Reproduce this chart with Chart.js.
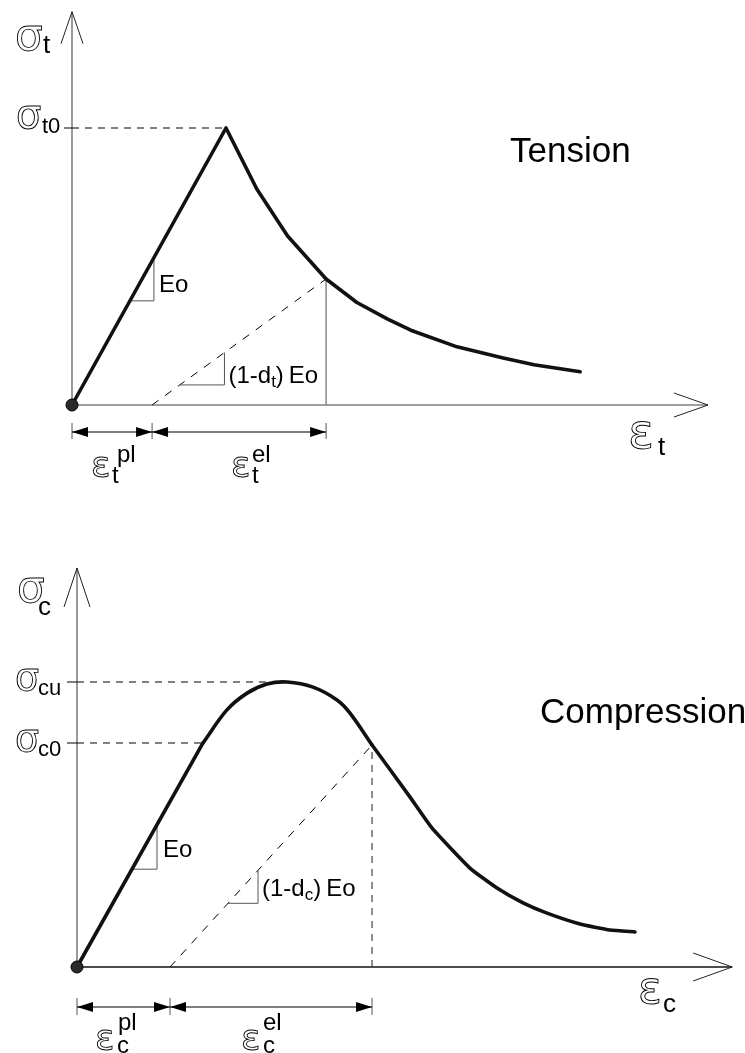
<!DOCTYPE html>
<html><head><meta charset="utf-8">
<script src="https://cdn.jsdelivr.net/npm/chart.js@4.4.0/dist/chart.umd.min.js"></script>
<style>
html,body{margin:0;padding:0;background:#fff;}
#wrap{position:relative;width:745px;height:1053px;overflow:hidden;background:#fff;}
canvas{position:absolute;left:0;}
#c1{top:0}
#c2{top:520px}
</style></head><body>
<div id="wrap"><canvas id="c1" width="745" height="520"></canvas><canvas id="c2" width="745" height="533"></canvas></div>
<script>
// ---------- data (normalised strain / stress) ----------
const tensionStrain = [0, 1, 1.2, 1.4, 1.65, 1.85, 2.05, 2.2, 2.5, 2.8, 3.0, 3.3];
const tensionStress = [0, 1, 0.78, 0.61, 0.455, 0.37, 0.31, 0.27, 0.21, 0.17, 0.145, 0.12];
const tensionPlasticStrain = 0.52;
const tensionUnloadIndex = 4;
const tensionPeakIndex = 1;
const tensionAxisEnd = [4.13, 1.42];
const tensionEoTriangle = [0.376, 0.532];
const tensionDamagedTriangle = [0.70, 0.99];

const compStrain = [0, 0.6, 0.714, 0.81, 0.905, 1.0, 1.124, 1.238, 1.3, 1.405, 1.586, 1.69, 1.871, 2.0, 2.124, 2.238, 2.395, 2.538, 2.657];
const compStress = [0, 0.786, 0.902, 0.961, 0.993, 1.0, 0.982, 0.937, 0.891, 0.779, 0.596, 0.488, 0.347, 0.277, 0.225, 0.189, 0.151, 0.130, 0.123];
const compPlasticStrain = 0.443;
const compUnloadIndex = 9;
const compYieldIndex = 1;
const compPeakIndex = 5;
const compAxisEnd = [3.12, 1.40];
const compEoTriangle = [0.262, 0.381];
const compDamagedTriangle = [0.719, 0.862];

const tensionTitle = "Tension";
const compTitle = "Compression";

// ---------- helpers ----------
const SANS = '"Liberation Sans", Arial, sans-serif';
function line(ctx, x1, y1, x2, y2, color, w, dash) {
  ctx.save(); ctx.beginPath(); ctx.strokeStyle = color; ctx.lineWidth = w;
  ctx.setLineDash(dash || []); ctx.moveTo(x1, y1); ctx.lineTo(x2, y2); ctx.stroke(); ctx.restore();
}
function openArrow(ctx, tx, ty, dx, dy, len, half, color, w) {
  const bx = tx - dx * len, by = ty - dy * len;
  const nx = -dy, ny = dx;
  line(ctx, tx, ty, bx + nx * half, by + ny * half, color, w);
  line(ctx, tx, ty, bx - nx * half, by - ny * half, color, w);
}
function solidArrow(ctx, tx, ty, dir, len, half) {
  ctx.save(); ctx.fillStyle = '#000'; ctx.beginPath();
  ctx.moveTo(tx, ty); ctx.lineTo(tx - dir * len, ty - half); ctx.lineTo(tx - dir * len, ty + half);
  ctx.closePath(); ctx.fill(); ctx.restore();
}
function dimension(ctx, xa, xb, y) {
  line(ctx, xa, y, xb, y, '#000', 1.2);
  solidArrow(ctx, xa, y, -1, 16, 5);
  solidArrow(ctx, xb, y, 1, 16, 5);
}
function txt(ctx, s, x, y, size, color) {
  ctx.save(); ctx.font = size + 'px ' + SANS; ctx.fillStyle = color || '#000';
  ctx.textAlign = 'left'; ctx.textBaseline = 'alphabetic'; ctx.fillText(s, x, y);
  const w = ctx.measureText(s).width; ctx.restore();
  return x + w;
}
function sym(ctx, s, x, y, size) {
  ctx.save(); ctx.font = size + 'px "DejaVu Sans"'; ctx.strokeStyle = '#000'; ctx.lineWidth = 0.9;
  ctx.textAlign = 'left'; ctx.textBaseline = 'alphabetic'; ctx.strokeText(s, x, y); ctx.restore();
}
function dot(ctx, x, y) {
  ctx.save(); ctx.beginPath(); ctx.arc(x, y, 6, 0, Math.PI * 2); ctx.fillStyle = '#2a2a2a'; ctx.fill();
  ctx.strokeStyle = '#000'; ctx.lineWidth = 1; ctx.stroke(); ctx.restore();
}
function triangle(ctx, X, Y, x0, x1, y0, y1) {
  line(ctx, X(x0), Y(y0), X(x1), Y(y0), '#555', 1);
  line(ctx, X(x1), Y(y0), X(x1), Y(y1), '#555', 1);
}
function onLine(xs, ys, x, a, b) {
  return ys[a] + (ys[b] - ys[a]) * (x - xs[a]) / (xs[b] - xs[a]);
}

// ---------- plugins ----------
const tensionPlugin = {
  id: 'tensionSketch',
  beforeDatasetsDraw(chart) {
    const ctx = chart.ctx, X = v => chart.scales.x.getPixelForValue(v), Y = v => chart.scales.y.getPixelForValue(v);
    const ox = X(0), oy = Y(0);
    line(ctx, ox, oy, ox, Y(tensionAxisEnd[1]), '#808080', 1.6);
    openArrow(ctx, ox, Y(tensionAxisEnd[1]), 0, -1, 32, 11, '#222', 1);
    line(ctx, ox, oy, X(tensionAxisEnd[0]), oy, '#808080', 1.6);
    openArrow(ctx, X(tensionAxisEnd[0]), oy, 1, 0, 34, 12, '#222', 1);
    const px = tensionStrain[tensionPeakIndex], py = tensionStress[tensionPeakIndex];
    line(ctx, ox - 8, Y(py), ox, Y(py), '#000', 1);
    line(ctx, ox, Y(py), X(px), Y(py), '#000', 1, [7, 6]);
    const ux = tensionStrain[tensionUnloadIndex], uy = tensionStress[tensionUnloadIndex];
    line(ctx, X(ux), oy, X(ux), Y(uy), '#808080', 1.4);
    line(ctx, X(tensionPlasticStrain), oy, X(ux), Y(uy), '#000', 1, [8, 8]);
    const e0 = onLine(tensionStrain, tensionStress, tensionEoTriangle[0], 0, 1);
    const e1 = onLine(tensionStrain, tensionStress, tensionEoTriangle[1], 0, 1);
    triangle(ctx, X, Y, tensionEoTriangle[0], tensionEoTriangle[1], e0, e1);
    const k = uy / (ux - tensionPlasticStrain);
    const d0 = k * (tensionDamagedTriangle[0] - tensionPlasticStrain), d1 = k * (tensionDamagedTriangle[1] - tensionPlasticStrain);
    triangle(ctx, X, Y, tensionDamagedTriangle[0], tensionDamagedTriangle[1], d0, d1);
  },
  afterDatasetsDraw(chart) {
    const ctx = chart.ctx, X = v => chart.scales.x.getPixelForValue(v), Y = v => chart.scales.y.getPixelForValue(v);
    const ox = X(0), oy = Y(0);
    dot(ctx, ox, oy);
    const ux = tensionStrain[tensionUnloadIndex], uy = tensionStress[tensionUnloadIndex];
    const dy = oy + 27;
    [0, tensionPlasticStrain, ux].forEach(v => line(ctx, X(v), oy + 18, X(v), oy + 34, '#555', 1));
    dimension(ctx, X(0), X(tensionPlasticStrain), dy);
    dimension(ctx, X(tensionPlasticStrain), X(ux), dy);
    sym(ctx, 'σ', ox - 57, oy - 355, 44); txt(ctx, 't', ox - 29, oy - 352, 26);
    const yp = Y(tensionStress[tensionPeakIndex]);
    sym(ctx, 'σ', ox - 56, yp, 40); txt(ctx, 't0', ox - 30, yp + 5, 22);
    const e0 = onLine(tensionStrain, tensionStress, tensionEoTriangle[0], 0, 1);
    txt(ctx, 'Eo', X(tensionEoTriangle[1]) + 5, Y(e0) - 9, 24);
    const k = uy / (ux - tensionPlasticStrain);
    const d0 = k * (tensionDamagedTriangle[0] - tensionPlasticStrain);
    let x = X(tensionDamagedTriangle[1]) + 4, by = Y(d0) - 2;
    x = txt(ctx, '(1-d', x, by, 24); x = txt(ctx, 't', x, by + 4, 17); x = txt(ctx, ')', x, by, 24);
    txt(ctx, 'Eo', x + 5, by, 24);
    txt(ctx, tensionTitle, ox + 438, oy - 243, 35);
    sym(ctx, 'ε', ox + 556, oy + 43, 48); txt(ctx, 't', ox + 586, oy + 50, 26);
    sym(ctx, 'ε', ox + 19, oy + 72, 36); txt(ctx, 't', ox + 40, oy + 78, 24); txt(ctx, 'pl', ox + 45, oy + 57, 24);
    sym(ctx, 'ε', ox + 159, oy + 72, 36); txt(ctx, 't', ox + 180, oy + 78, 24); txt(ctx, 'el', ox + 180, oy + 57, 24);
  }
};

const compPlugin = {
  id: 'compSketch',
  beforeDatasetsDraw(chart) {
    const ctx = chart.ctx, X = v => chart.scales.x.getPixelForValue(v), Y = v => chart.scales.y.getPixelForValue(v);
    const ox = X(0), oy = Y(0);
    line(ctx, ox, oy, ox, Y(compAxisEnd[1]), '#808080', 1.6);
    openArrow(ctx, ox, Y(compAxisEnd[1]), 0, -1, 39, 13, '#222', 1);
    line(ctx, ox, oy, X(compAxisEnd[0]), oy, '#111', 1.3);
    openArrow(ctx, X(compAxisEnd[0]), oy, 1, 0, 39, 14, '#222', 1);
    const peak = [compStrain[compPeakIndex], compStress[compPeakIndex]];
    const yld = [compStrain[compYieldIndex], compStress[compYieldIndex]];
    [peak, yld].forEach(p => {
      line(ctx, ox - 10, Y(p[1]), ox, Y(p[1]), '#000', 1);
      line(ctx, ox, Y(p[1]), X(p[0]), Y(p[1]), '#000', 1, [7, 6]);
    });
    const ux = compStrain[compUnloadIndex], uy = compStress[compUnloadIndex];
    line(ctx, X(ux), oy, X(ux), Y(uy), '#444', 1.2, [7, 6]);
    line(ctx, X(compPlasticStrain), oy, X(ux), Y(uy), '#000', 1, [8, 8]);
    const e0 = onLine(compStrain, compStress, compEoTriangle[0], 0, 1);
    const e1 = onLine(compStrain, compStress, compEoTriangle[1], 0, 1);
    triangle(ctx, X, Y, compEoTriangle[0], compEoTriangle[1], e0, e1);
    const k = uy / (ux - compPlasticStrain);
    const d0 = k * (compDamagedTriangle[0] - compPlasticStrain), d1 = k * (compDamagedTriangle[1] - compPlasticStrain);
    triangle(ctx, X, Y, compDamagedTriangle[0], compDamagedTriangle[1], d0, d1);
  },
  afterDatasetsDraw(chart) {
    const ctx = chart.ctx, X = v => chart.scales.x.getPixelForValue(v), Y = v => chart.scales.y.getPixelForValue(v);
    const ox = X(0), oy = Y(0);
    dot(ctx, ox, oy);
    const ux = compStrain[compUnloadIndex], uy = compStress[compUnloadIndex];
    const dy = oy + 40;
    [0, compPlasticStrain, ux].forEach(v => line(ctx, X(v), oy + 31, X(v), oy + 48, '#555', 1));
    dimension(ctx, X(0), X(compPlasticStrain), dy);
    dimension(ctx, X(compPlasticStrain), X(ux), dy);
    sym(ctx, 'σ', ox - 60, oy - 365, 44); txt(ctx, 'c', ox - 39, oy - 352, 26);
    const yc = Y(compStress[compPeakIndex]), y0 = Y(compStress[compYieldIndex]);
    sym(ctx, 'σ', ox - 62, yc + 8, 38); txt(ctx, 'cu', ox - 39, yc + 13, 22);
    sym(ctx, 'σ', ox - 62, y0 + 8, 38); txt(ctx, 'c0', ox - 39, y0 + 13, 22);
    const e0 = onLine(compStrain, compStress, compEoTriangle[0], 0, 1);
    txt(ctx, 'Eo', X(compEoTriangle[1]) + 6, Y(e0) - 12, 24);
    const k = uy / (ux - compPlasticStrain);
    const d0 = k * (compDamagedTriangle[0] - compPlasticStrain);
    let x = X(compDamagedTriangle[1]) + 4, by = Y(d0) - 7;
    x = txt(ctx, '(1-d', x, by, 24); x = txt(ctx, 'c', x, by + 4, 17); x = txt(ctx, ')', x, by, 24);
    txt(ctx, 'Eo', x + 5, by, 24);
    txt(ctx, compTitle, ox + 463, oy - 244, 35);
    sym(ctx, 'ε', ox + 561, oy + 36, 44); txt(ctx, 'c', ox + 586, oy + 45, 26);
    sym(ctx, 'ε', ox + 18, oy + 83, 36); txt(ctx, 'c', ox + 40, oy + 86, 24); txt(ctx, 'pl', ox + 41, oy + 63, 24);
    sym(ctx, 'ε', ox + 164, oy + 83, 36); txt(ctx, 'c', ox + 186, oy + 86, 24); txt(ctx, 'el', ox + 186, oy + 63, 24);
  }
};

function pts(xs, ys, a, b) {
  const out = [];
  for (let i = a; i <= b; i++) out.push({ x: xs[i], y: ys[i] });
  return out;
}
function curve(data, tension) {
  return { data: data, borderColor: '#111', borderWidth: 3.6, pointRadius: 0, tension: tension,
    fill: false, clip: false, borderJoinStyle: 'round', borderCapStyle: 'round' };
}
function makeChart(id, datasets, xmax, ymax, padding, plugin) {
  return new Chart(document.getElementById(id), {
    type: 'line',
    data: { datasets: datasets },
    options: {
      responsive: false, animation: false, devicePixelRatio: 1, events: [],
      layout: { padding: padding },
      scales: { x: { type: 'linear', min: 0, max: xmax, display: false }, y: { type: 'linear', min: 0, max: ymax, display: false } },
      plugins: { legend: { display: false }, tooltip: { enabled: false }, title: { display: false } }
    },
    plugins: [plugin]
  });
}
const nT = tensionStrain.length - 1, nC = compStrain.length - 1;
makeChart('c1', [curve(pts(tensionStrain, tensionStress, 0, nT), 0)],
  4.3, 1.4, { left: 72, right: 10.8, top: 17.2, bottom: 115 }, tensionPlugin);
makeChart('c2', [
    curve(pts(compStrain, compStress, 0, compYieldIndex), 0),
    curve(pts(compStrain, compStress, compYieldIndex, compUnloadIndex), 0.35),
    curve(pts(compStrain, compStress, compUnloadIndex, nC), 0.15)
  ], 3.15, 1.4, { left: 77, right: 6.5, top: 48, bottom: 86 }, compPlugin);
</script>
</body></html>
